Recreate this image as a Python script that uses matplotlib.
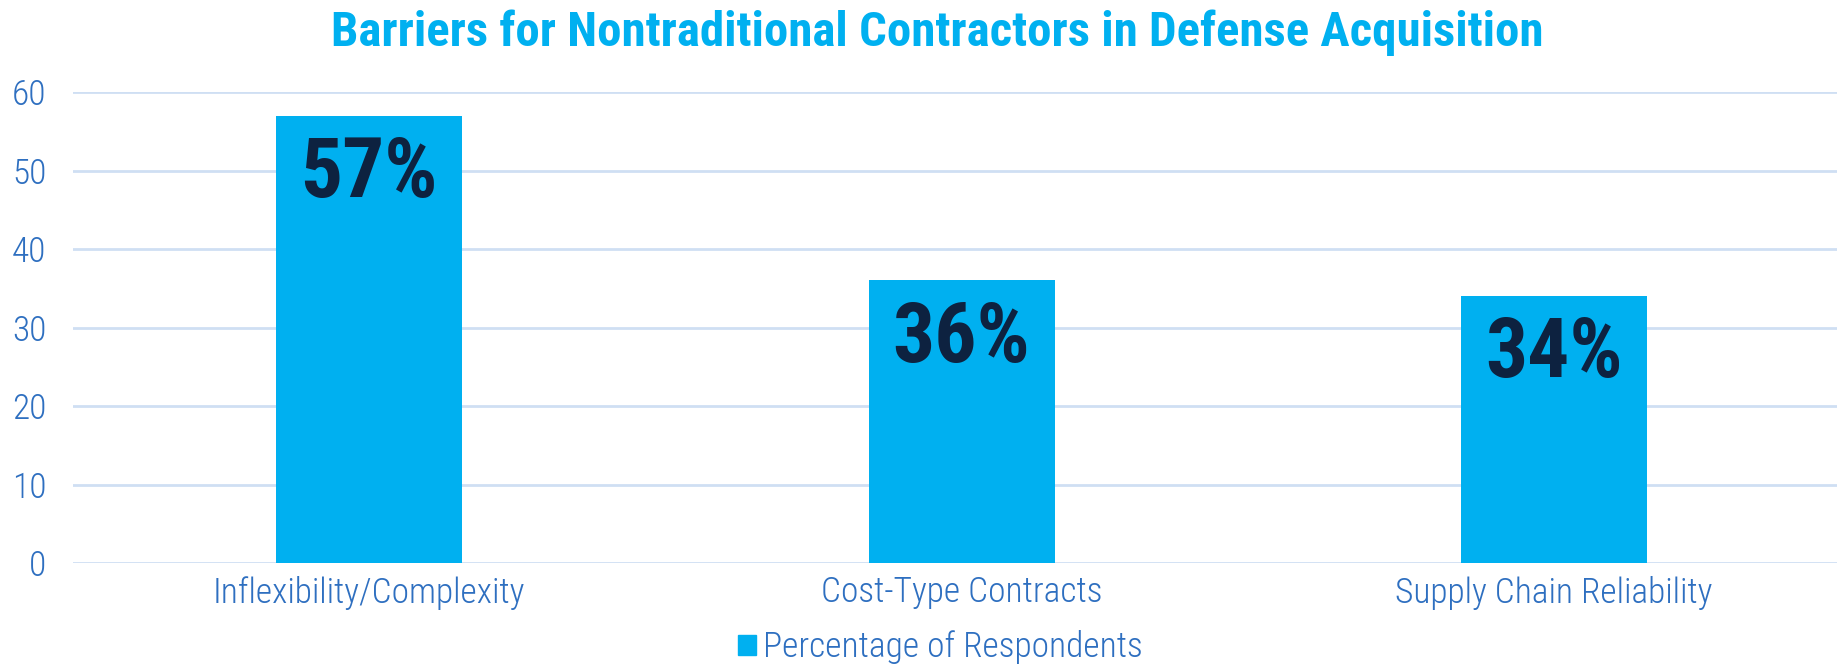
import matplotlib
matplotlib.use("Agg")
import matplotlib.pyplot as plt
from matplotlib.patches import Patch

categories = ["Inflexibility/Complexity", "Cost-Type Contracts", "Supply Chain Reliability"]
values = [57, 36, 34]
labels = ["57%", "36%", "34%"]
yticks = [0, 10, 20, 30, 40, 50, 60]

plt.rcParams["font.family"] = ["Roboto Condensed", "DejaVu Sans"]
plt.rcParams["font.stretch"] = "condensed"

bar_col = "#00b0f0"
tick_col = "#2e6fc0"
grid_col = "#cfdff3"

fig = plt.figure(figsize=(18.37, 6.64), dpi=100)
ax = fig.add_axes([73 / 1837, 1 - 563 / 664, 1 - 73 / 1837, 471 / 664])

x = list(range(len(categories)))
ax.bar(x, values, width=0.314, color=bar_col, zorder=3)
for xi, v, lab in zip(x, values, labels):
    ax.text(xi, v - 7.5, lab, ha="center", va="center", fontsize=60,
            fontweight="bold", color="#0d2240", zorder=4)

ax.set_ylim(0, 60)
ax.set_xlim(-0.5, 2.478)
ax.set_yticks(yticks)
ax.set_xticks(x)
ax.set_xticklabels(categories)
ax.tick_params(axis="both", length=0, colors=tick_col, labelsize=25.5)
ax.tick_params(axis="x", pad=9)
ax.tick_params(axis="y", pad=19)
for lab in ax.get_yticklabels() + ax.get_xticklabels():
    lab.set_fontweight("light")
ax.grid(axis="y", color=grid_col, linewidth=2, zorder=0)
for s in ax.spines.values():
    s.set_visible(False)

fig.text(0.51, 0.95, "Barriers for Nontraditional Contractors in Defense Acquisition",
         ha="center", va="center", fontsize=35.2, fontweight="bold", color=bar_col)

fig.legend(handles=[Patch(color=bar_col)], labels=["Percentage of Respondents"],
           loc="center", bbox_to_anchor=(0.512, 0.025), frameon=False,
           prop={"size": 25.5, "weight": "light"}, labelcolor=tick_col,
           handlelength=0.5, handleheight=0.5, handletextpad=0.2)

fig.savefig("out.png", dpi=100)
